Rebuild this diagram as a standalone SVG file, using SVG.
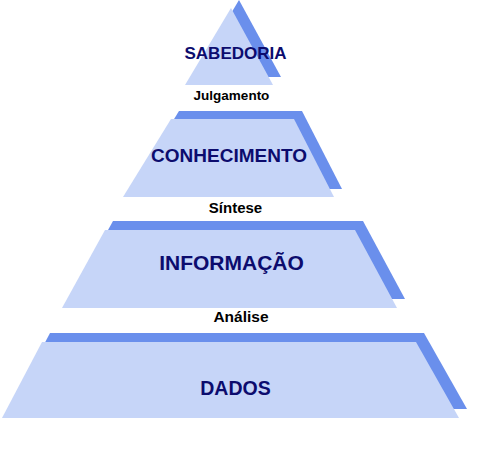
<svg xmlns="http://www.w3.org/2000/svg" width="495" height="452" viewBox="0 0 495 452">
  <style>
    .shadow { fill: #6A8FEC; }
    .face { fill: #C6D5F8; }
    .title { font-family: "Liberation Sans", Arial, sans-serif; font-weight: bold; fill: #0C0C6E; text-anchor: middle; }
    .label { font-family: "Liberation Sans", Arial, sans-serif; font-weight: bold; fill: #000000; text-anchor: middle; }
  </style>
  <rect x="0" y="0" width="495" height="452" fill="#FFFFFF"/>

  <g id="sabedoria">
    <polygon class="shadow" points="231,8 273,85 185,85" transform="translate(8,-8)"/>
    <polygon class="face" points="231,8 273,85 185,85"/>
    <text class="title" x="235.5" y="59" font-size="17">SABEDORIA</text>
  </g>

  <g id="conhecimento">
    <polygon class="shadow" points="171,119 294,119 334,197 123,197" transform="translate(8,-8)"/>
    <polygon class="face" points="171,119 294,119 334,197 123,197"/>
    <text class="title" x="229" y="162" font-size="19">CONHECIMENTO</text>
  </g>

  <g id="informacao">
    <polygon class="shadow" points="105,230 355,230 397,308 62,308" transform="translate(8,-9)"/>
    <polygon class="face" points="105,230 355,230 397,308 62,308"/>
    <text class="title" x="231.5" y="270" font-size="21">INFORMAÇÃO</text>
  </g>

  <g id="dados">
    <polygon class="shadow" points="42,342 416,342 459,418 2,418" transform="translate(8,-9)"/>
    <polygon class="face" points="42,342 416,342 459,418 2,418"/>
    <text class="title" x="235.5" y="395" font-size="19.5">DADOS</text>
  </g>

  <g id="connectors">
    <text class="label" x="231.5" y="100" font-size="13.5">Julgamento</text>
    <text class="label" x="235.5" y="213" font-size="15">Síntese</text>
    <text class="label" x="241" y="322" font-size="15.5">Análise</text>
  </g>
</svg>
